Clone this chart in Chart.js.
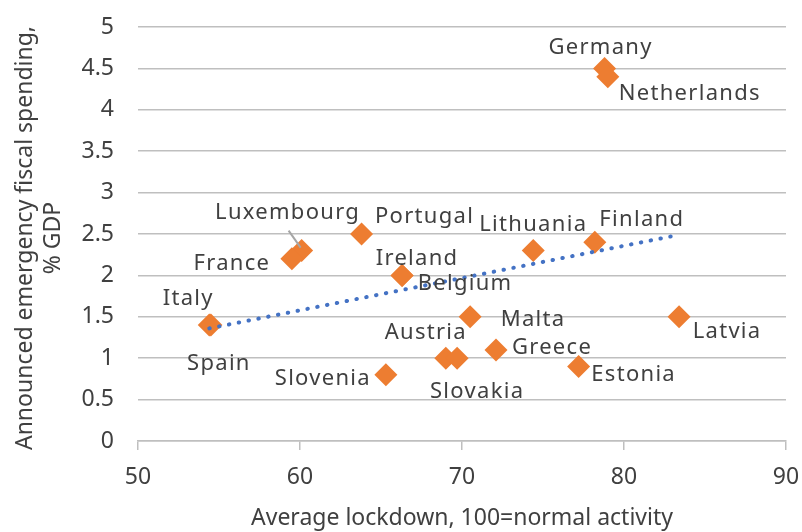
<!DOCTYPE html>
<html>
<head>
<meta charset="utf-8">
<script src="https://cdn.jsdelivr.net/npm/chart.js@4.4.1/dist/chart.umd.min.js"></script>
<style>
  html, body { margin: 0; padding: 0; background: #fff; }
</style>
</head>
<body>
<canvas id="grafico" width="802" height="532"></canvas>
<script>
// Datos: confinamiento medio vs gasto fiscal de emergencia (% PIB)
const paises = ['Germany', 'Netherlands', 'Finland', 'Lithuania', 'Portugal', 'Luxembourg',
  'France', 'Ireland', 'Belgium', 'Italy', 'Spain', 'Malta', 'Latvia', 'Austria',
  'Slovakia', 'Greece', 'Estonia', 'Slovenia'];
const confinamiento = [78.8, 79.0, 78.2, 74.4, 63.8, 60.1, 59.5, 66.3, 66.3, 54.4, 54.5,
  70.5, 83.4, 69.0, 69.7, 72.1, 77.2, 65.3];
const gasto = [4.5, 4.4, 2.4, 2.3, 2.5, 2.3, 2.2, 2.0, 2.0, 1.4, 1.4, 1.5, 1.5, 1.0, 1.0,
  1.1, 0.9, 0.8];

// Linea de tendencia (extremos)
const tendenciaX = [54.4, 83.4];
const tendenciaY = [1.36, 2.49];

const tituloX = 'Average lockdown, 100=normal activity';
const tituloY = ['Announced emergency fiscal spending,', '% GDP'];

// Posicion de cada etiqueta respecto a su punto (px)
const desplazamiento = {
  Germany: [-4, -23], Netherlands: [82, 15], Finland: [47, -25], Lithuania: [0, -28],
  Portugal: [63, -19], Luxembourg: [-14, -40], France: [-60, 3], Ireland: [15, -19],
  Belgium: [63, 6], Italy: [-21, -28], Spain: [8, 37], Malta: [63, 1], Latvia: [48, 13],
  Austria: [-20, -27], Slovakia: [20, 32], Greece: [56, -4], Estonia: [55, 6], Slovenia: [-63, 2]
};

const fuente = '"Noto Sans", sans-serif';
const colorTexto = '#404040';

const puntos = paises.map((p, i) => ({ x: confinamiento[i], y: gasto[i] }));
const tendencia = tendenciaX.map((x, i) => ({ x: x, y: tendenciaY[i] }));

const etiquetas = {
  id: 'etiquetas',
  afterDatasetsDraw(chart) {
    const ctx = chart.ctx;
    const meta = chart.getDatasetMeta(0);
    ctx.save();
    ctx.font = '22px ' + fuente;
    ctx.letterSpacing = '1.3px';
    ctx.fillStyle = colorTexto;
    ctx.textAlign = 'center';
    ctx.textBaseline = 'middle';
    meta.data.forEach((pt, i) => {
      const d = desplazamiento[paises[i]];
      ctx.fillText(paises[i], pt.x + d[0], pt.y + d[1] + 2);
      if (paises[i] === 'Luxembourg') {
        // linea guia hasta el punto
        ctx.strokeStyle = '#a6a6a6';
        ctx.lineWidth = 2;
        ctx.beginPath();
        ctx.moveTo(pt.x - 13, pt.y - 20);
        ctx.lineTo(pt.x - 1, pt.y - 3);
        ctx.stroke();
      }
    });
    ctx.restore();
  },
  afterDraw(chart) {
    // titulo del eje Y en dos lineas
    const ctx = chart.ctx;
    ctx.save();
    ctx.font = '23px ' + fuente;
    ctx.fillStyle = colorTexto;
    ctx.textAlign = 'center';
    ctx.textBaseline = 'alphabetic';
    ctx.translate(0, 238);
    ctx.rotate(-Math.PI / 2);
    ctx.fillText(tituloY[0], 0, 32);
    ctx.fillText(tituloY[1], 0, 60);
    ctx.restore();
  }
};

new Chart(document.getElementById('grafico'), {
  type: 'scatter',
  data: {
    datasets: [
      {
        label: 'Paises',
        data: puntos,
        pointStyle: 'rectRot',
        pointRadius: 11.5,
        pointHoverRadius: 11.5,
        backgroundColor: '#ED7D31',
        borderColor: '#ED7D31',
        borderWidth: 0,
        order: 2
      },
      {
        label: 'Tendencia',
        type: 'line',
        data: tendencia,
        borderColor: '#4472C4',
        borderWidth: 4,
        borderDash: [0.5, 9.5],
        borderCapStyle: 'round',
        pointRadius: 0,
        fill: false,
        order: 1
      }
    ]
  },
  options: {
    responsive: false,
    animation: false,
    layout: { autoPadding: false, padding: { top: 27, right: 16, left: 0, bottom: 0 } },
    plugins: { legend: { display: false }, tooltip: { enabled: false } },
    scales: {
      x: {
        type: 'linear',
        min: 50, max: 90,
        ticks: { stepSize: 10, color: colorTexto, font: { family: fuente, size: 23 }, padding: 14 },
        grid: { drawOnChartArea: false, drawTicks: true, tickLength: 9, color: '#bfbfbf', lineWidth: 1.5 },
        border: { display: true, color: '#bfbfbf', width: 1.5 },
        title: { display: true, text: tituloX, color: colorTexto, font: { family: fuente, size: 23 }, padding: { top: 0, bottom: 0 } },
        afterFit(scale) {
          scale.height = 91;
          scale.paddingLeft = 0;
          scale.paddingRight = 0;
        }
      },
      y: {
        min: 0, max: 5,
        ticks: {
          stepSize: 0.5, color: colorTexto, font: { family: fuente, size: 23 }, padding: 24,
          callback: (v) => String(Math.round(v * 10) / 10)
        },
        grid: { drawTicks: false, color: '#bfbfbf', lineWidth: 1.5 },
        border: { display: false },
        afterFit(scale) {
          scale.width = 138;
          scale.paddingTop = 0;
          scale.paddingBottom = 0;
        }
      }
    }
  },
  plugins: [etiquetas]
});
</script>
</body>
</html>
